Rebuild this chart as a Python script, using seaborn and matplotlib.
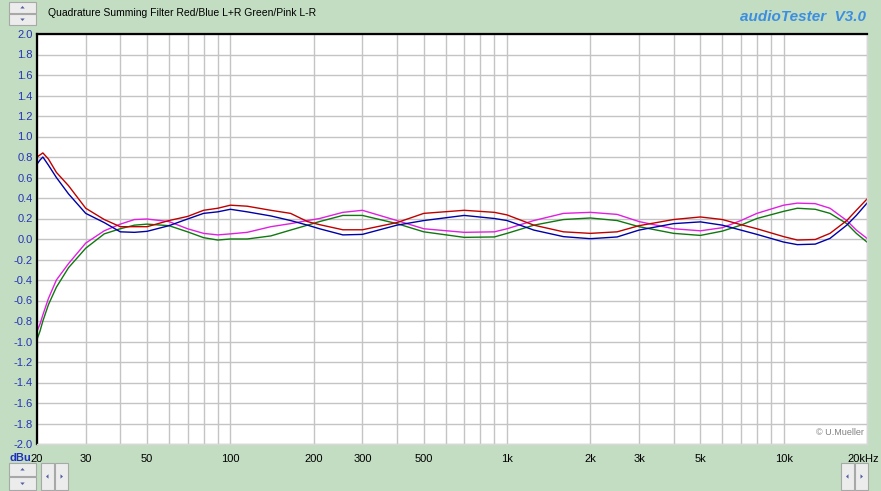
import matplotlib
matplotlib.use("Agg")
import matplotlib.pyplot as plt
import matplotlib.transforms as mtransforms
import seaborn as sns
import numpy as np
import pandas as pd
from matplotlib.patches import Rectangle, Polygon

# frequency points (Hz)
freqs = [20, 20.5, 21, 22, 23.5, 26, 30, 35, 40, 45, 50, 60, 70, 80, 90, 100,
         115, 140, 165, 190, 210, 255, 300, 400, 500, 700, 900, 1000, 1250,
         1600, 2000, 2500, 3000, 4000, 5000, 6000, 7000, 8000, 10000, 11200,
         13000, 14700, 16900, 18300, 20000]

# L+R (red / blue) and L-R (green / pink), dBu
red_lr = [0.80, 0.82, 0.84, 0.78, 0.65, 0.52, 0.30, 0.19, 0.12, 0.12, 0.12, 0.18,
          0.22, 0.28, 0.30, 0.33, 0.32, 0.28, 0.25, 0.17, 0.14, 0.09, 0.09, 0.16,
          0.25, 0.28, 0.26, 0.235, 0.135, 0.07, 0.055, 0.07, 0.13, 0.19, 0.215,
          0.19, 0.14, 0.10, 0.023, -0.01, -0.005, 0.055, 0.18, 0.28, 0.39]
blue_lr = [0.73, 0.77, 0.80, 0.72, 0.60, 0.44, 0.25, 0.16, 0.07, 0.065, 0.075, 0.13,
           0.195, 0.25, 0.265, 0.29, 0.265, 0.225, 0.18, 0.135, 0.10, 0.04, 0.045,
           0.135, 0.18, 0.23, 0.20, 0.18, 0.087, 0.023, 0.003, 0.02, 0.087, 0.15,
           0.167, 0.135, 0.087, 0.045, -0.03, -0.055, -0.05, 0.006, 0.135, 0.23, 0.35]
pink_lmr = [-0.90, -0.83, -0.74, -0.58, -0.40, -0.24, -0.04, 0.08, 0.145, 0.19,
            0.195, 0.17, 0.10, 0.055, 0.04, 0.05, 0.065, 0.12, 0.15, 0.18, 0.20,
            0.26, 0.28, 0.18, 0.10, 0.065, 0.07, 0.10, 0.18, 0.25, 0.26, 0.24,
            0.17, 0.10, 0.08, 0.11, 0.18, 0.25, 0.33, 0.35, 0.345, 0.30, 0.18,
            0.087, 0.006]
green_lmr = [-0.98, -0.90, -0.80, -0.64, -0.47, -0.28, -0.09, 0.05, 0.10, 0.135,
             0.145, 0.13, 0.07, 0.013, -0.01, 0.0, 0.0, 0.03, 0.087, 0.135, 0.17,
             0.23, 0.23, 0.15, 0.07, 0.016, 0.02, 0.055, 0.135, 0.19, 0.205, 0.18,
             0.12, 0.055, 0.035, 0.077, 0.135, 0.20, 0.27, 0.30, 0.29, 0.25, 0.15,
             0.055, -0.03]

x_ticks = [20, 30, 50, 100, 200, 300, 500, 1000, 2000, 3000, 5000, 10000, 20000]
x_labels = ["20", "30", "50", "100", "200", "300", "500", "1k", "2k", "3k",
            "5k", "10k", "20kHz"]
y_ticks = [round(-2.0 + 0.2 * i, 1) for i in range(21)]

series = {"green": green_lmr, "pink": pink_lmr, "blue": blue_lr, "red": red_lr}
colors = {"red": "#C00000", "blue": "#0000A8", "pink": "#E020E0", "green": "#107810"}

df = pd.concat([pd.DataFrame({"freq": freqs, "level": v, "trace": k})
                for k, v in series.items()], ignore_index=True)

BG = "#C2DDC2"
W, H = 881, 491
plt.rcParams["font.family"] = ["Liberation Sans", "DejaVu Sans"]

fig = plt.figure(figsize=(W / 100, H / 100), dpi=100)
fig.patch.set_facecolor(BG)
ax = fig.add_axes([37 / W, (H - 444) / H, 830 / W, 410 / H])
ax.set_facecolor("white")

sns.lineplot(data=df, x="freq", y="level", hue="trace", palette=colors,
             linewidth=1.0, legend=False, ax=ax)

ax.set_xscale("log")
ax.set_xlim(20, 20000)
ax.set_ylim(-2.0, 2.0)

# grid on every 1..9 step of each decade
grid_x = [m * 10 ** e for e in range(1, 5) for m in range(1, 10)
          if 20 <= m * 10 ** e <= 20000]
ax.set_xticks(grid_x, minor=True)
ax.set_xticks(x_ticks)
ax.set_xticklabels(x_labels)
ax.xaxis.set_minor_formatter(plt.NullFormatter())
ax.set_yticks(y_ticks)
ax.set_yticklabels([f"{v:.1f}" for v in y_ticks])
ax.grid(which="both", color="#C4C4C4", linewidth=1.0)
ax.set_axisbelow(True)
ax.tick_params(which="both", length=0)
ax.tick_params(axis="x", pad=7, labelsize=8, colors="black")
ax.tick_params(axis="y", pad=3, labelsize=8, labelcolor="#2633B8")
ax.set_xlabel("")
ax.set_ylabel("")

# last label sits a little left so it stays inside the window
last = ax.get_xticklabels()[-1]
last.set_transform(last.get_transform() +
                   mtransforms.ScaledTranslation(-4 / 100, 0, fig.dpi_scale_trans))

for side in ("left", "top"):
    ax.spines[side].set_color("black")
    ax.spines[side].set_linewidth(1.6)
for side in ("right", "bottom"):
    ax.spines[side].set_color("#D8D8D8")
    ax.spines[side].set_linewidth(1.0)

# header / footer texts
fig.text(48 / W, 1 - 13 / H, "Quadrature Summing Filter Red/Blue L+R Green/Pink L-R",
         fontsize=7.5, va="center", ha="left", color="black")
fig.text(866 / W, 1 - 17 / H, "audioTester  V3.0", fontsize=11, fontweight="bold",
         fontstyle="italic", color="#3C8EE0", va="center", ha="right")
fig.text(31 / W, 1 - 458 / H, "dBu", fontsize=8, fontweight="bold",
         color="#1F2FC0", va="center", ha="right")
ax.text(0.996, 0.018, "\u00a9 U.Mueller", transform=ax.transAxes, fontsize=6.5,
        color="#808080", ha="right", va="bottom")


def px(x, y):
    return (x / W, 1 - y / H)


def button(x0, y0, w, h, direction):
    r = Rectangle(px(x0, y0 + h), w / W, h / H, transform=fig.transFigure,
                  facecolor="#ECECEC", edgecolor="#A8A8A8", linewidth=0.8)
    fig.patches.append(r)
    cx, cy = x0 + w / 2, y0 + h / 2
    s = 2.2
    if direction == "up":
        pts = [(cx - s, cy + 1), (cx + s, cy + 1), (cx, cy - 1.5)]
    elif direction == "down":
        pts = [(cx - s, cy - 1), (cx + s, cy - 1), (cx, cy + 1.5)]
    elif direction == "left":
        pts = [(cx + 1, cy - s), (cx + 1, cy + s), (cx - 1.5, cy)]
    else:
        pts = [(cx - 1, cy - s), (cx - 1, cy + s), (cx + 1.5, cy)]
    fig.patches.append(Polygon([px(*p) for p in pts], closed=True,
                               transform=fig.transFigure, facecolor="#5060A0",
                               edgecolor="none"))


button(9, 2, 27, 11, "up")
button(9, 14, 27, 11, "down")
button(9, 463, 27, 13, "up")
button(9, 477, 27, 13, "down")
button(41, 463, 13, 27, "left")
button(55, 463, 13, 27, "right")
button(841, 463, 13, 27, "left")
button(855, 463, 13, 27, "right")

fig.savefig("out.png", dpi=100, facecolor=BG)
